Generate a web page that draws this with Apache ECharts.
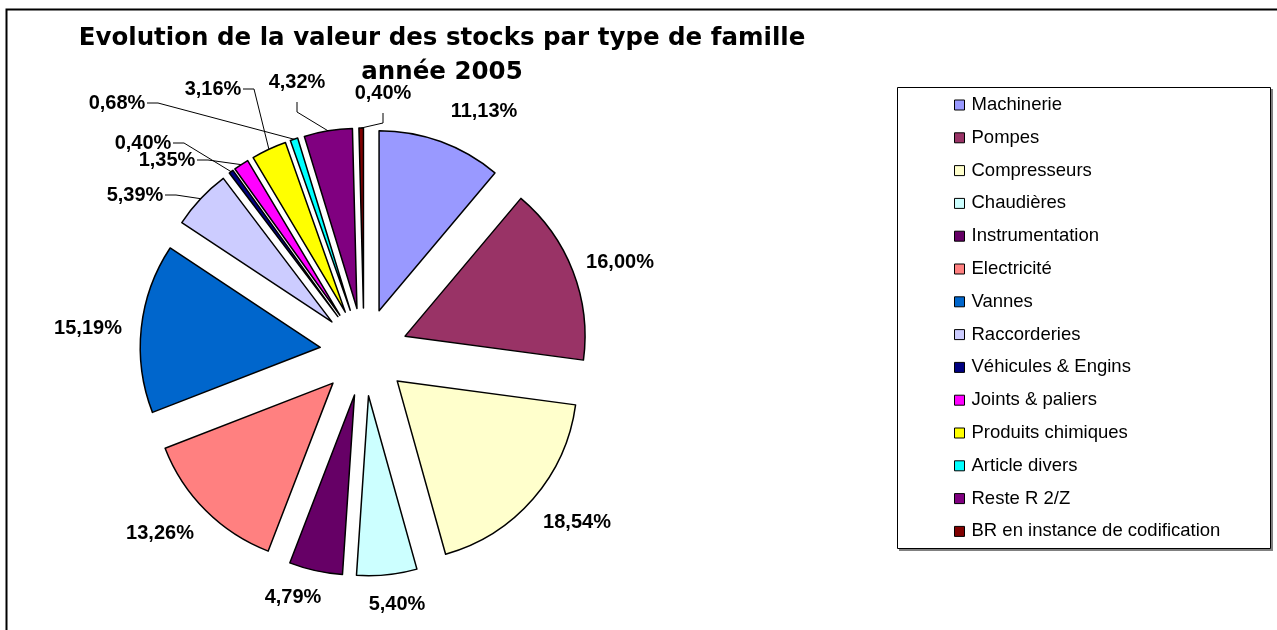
<!DOCTYPE html>
<html>
<head>
<meta charset="utf-8">
<script src="https://cdn.jsdelivr.net/npm/echarts@6/dist/echarts.min.js"></script>
<style>
  html, body { margin: 0; padding: 0; background: #fff; }
  #chart { width: 1277px; height: 630px; }
</style>
</head>
<body>
<div id="chart"></div>
<script>
// familles et parts (%)
let familles = ['Machinerie', 'Pompes', 'Compresseurs', 'Chaudières', 'Instrumentation', 'Electricité',
  'Vannes', 'Raccorderies', 'Véhicules & Engins', 'Joints & paliers', 'Produits chimiques',
  'Article divers', 'Reste R 2/Z', 'BR en instance de codification'];
let parts = [11.13, 16.00, 18.54, 5.40, 4.79, 13.26, 15.19, 5.39, 0.40, 1.35, 3.16, 0.68, 4.32, 0.40];
let couleurs = ['#9999FF', '#993366', '#FFFFCC', '#CCFFFF', '#660066', '#FF8080', '#0066CC',
  '#CCCCFF', '#000080', '#FF00FF', '#FFFF00', '#00FFFF', '#800080', '#800000'];
// trait de rappel : '' = aucun, 'd' = départ à droite de l'étiquette, 'b' = départ sous l'étiquette
let traits = ['', '', '', '', '', '', '', 'd', 'd', 'd', 'd', 'd', 'b', 'b'];
// emplacement des étiquettes (centre du texte)
let posEtiquettes = [[484, 111], [620, 262], [577, 522], [397, 604], [293, 597], [160, 533], [88, 328],
  [135, 195], [143, 143], [167, 160], [213, 89], [117, 103], [297, 82], [383, 93]];

const centre = [364, 352];
const rayon = 180;
const decalage = 44;
const police = 'Liberation Sans, Arial, sans-serif';

function fmt(v) {
  return v.toFixed(2).replace('.', ',') + '%';
}

let pieData = familles.map(function (nom, i) {
  return { name: nom, value: parts[i], selected: true, itemStyle: { color: couleurs[i] } };
});

// étiquettes et traits de rappel, posés à partir de l'angle médian de chaque part
let total = parts.reduce(function (a, b) { return a + b; }, 0);
let graphics = [
  { type: 'rect', shape: { x: 6.5, y: 9.5, width: 1300, height: 700 }, style: { fill: 'none', stroke: '#000', lineWidth: 2 }, silent: true },
  { type: 'rect', shape: { x: 899, y: 89, width: 374, height: 462 }, style: { fill: '#808080' }, silent: true, z: -2 },
  { type: 'rect', shape: { x: 897.5, y: 87.5, width: 373, height: 461 }, style: { fill: '#fff', stroke: '#000', lineWidth: 1 }, silent: true, z: -1 }
];
let cumul = 0;
parts.forEach(function (v, i) {
  let milieu = (cumul + v / 2) / total * Math.PI * 2;
  cumul += v;
  let p = posEtiquettes[i];
  graphics.push({
    type: 'text', x: p[0], y: p[1], z: 10, silent: true,
    style: { text: fmt(v), align: 'center', verticalAlign: 'middle', font: 'bold 20px ' + police, fill: '#000' }
  });
  if (!traits[i]) return;
  let r = rayon + decalage;
  let bout = [centre[0] + r * Math.sin(milieu), centre[1] - r * Math.cos(milieu)];
  let depart, coude;
  if (traits[i] === 'd') {
    depart = [p[0] + 30, p[1]];
    coude = [p[0] + 41, p[1]];
  } else {
    depart = [p[0], p[1] + 20];
    coude = [p[0], p[1] + 30];
  }
  graphics.push({
    type: 'polyline', z: 9, silent: true,
    shape: { points: [depart, coude, bout] },
    style: { stroke: '#000', lineWidth: 1, fill: 'none' }
  });
});

let chart = echarts.init(document.getElementById('chart'));
chart.setOption({
  animation: false,
  title: {
    text: 'Evolution de la valeur des stocks par type de famille\nannée 2005',
    left: 437,
    top: 17,
    textAlign: 'center',
    textStyle: { fontFamily: 'DejaVu Sans', fontWeight: 'bold', fontSize: 24.5, lineHeight: 34, color: '#000' }
  },
  legend: {
    orient: 'vertical',
    left: 949,
    top: 90,
    icon: 'rect',
    itemWidth: 10,
    itemHeight: 10,
    itemGap: 12.8,
    selectedMode: false,
    itemStyle: { borderColor: '#000', borderWidth: 1 },
    textStyle: { fontFamily: police, fontSize: 18.5, lineHeight: 20, color: '#000', padding: [0, 0, 0, 2] },
    data: familles
  },
  graphic: graphics,
  series: [{
    type: 'pie',
    center: centre,
    radius: rayon,
    startAngle: 90,
    clockwise: true,
    selectedMode: 'multiple',
    selectedOffset: decalage,
    emphasis: { disabled: true },
    itemStyle: { borderColor: '#000', borderWidth: 1.5 },
    label: { show: false },
    labelLine: { show: false },
    data: pieData
  }]
});
</script>
</body>
</html>
